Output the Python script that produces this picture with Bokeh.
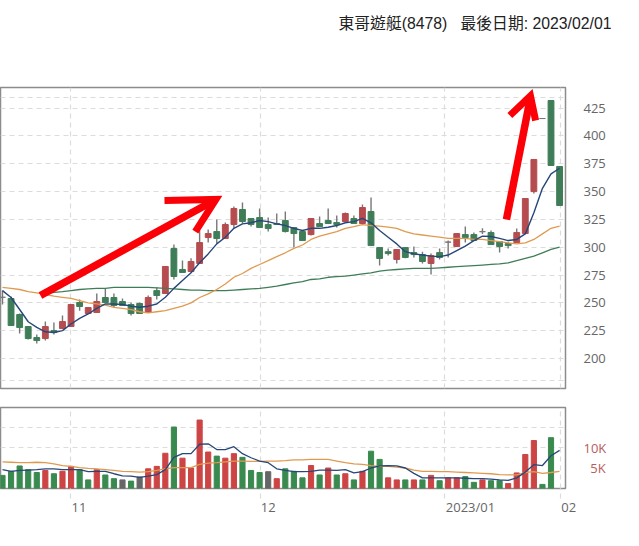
from bokeh.embed import file_html
from bokeh.resources import INLINE
from bokeh.plotting import figure
from bokeh.layouts import column
from bokeh.models import Range1d, FixedTicker, Grid, ColumnDataSource, Label, LinearAxis

opens = [255,253.9,239.5,228.7,218.8,217.9,225.1,226.9,228.7,250.3,240.4,241.3,254.8,254.8,251.2,248.5,249.4,241.3,261,258.4,
         298.8,280,278.2,285.4,308.7,314.1,307.8,320.4,333.9,325.8,326.7,320.4,321.3,324,317.7,314.1,311.4,321.3,324,322.2,
         323.1,325.8,321.3,332.1,299.7,296,289,299.7,295.2,293.4,285.4,295.2,304.6,300.6,311.4,311.4,314,313.2,305.1,303.3,
         304.2,312.3,350,415.7,431.9,372.6]
closes = [255,229.6,227.8,217.9,216.1,228.7,223.3,233.2,248.5,246.7,245.8,251.2,250.3,247.6,247.6,240.4,240.4,254.8,256.6,282.7,
          273.7,277.3,287.2,304.2,312.3,307.8,320.4,334.8,323.1,320.4,317.7,316.8,320.4,314.1,312.3,306,325.8,318.6,321.3,320.4,
          330.3,321.3,335.7,301.5,289.9,294.3,297.9,290.8,293.4,287.2,292.5,290.8,304.6,312.3,308.7,306,314,302.4,300.6,301.5,
          313.2,343.8,378.9,415.7,373.5,337.5]
highs = [261,255.7,240.4,228.7,221.5,233.2,232.3,238.6,248.5,253,245.8,258.4,262.9,258.4,253.9,250.3,250.3,256.6,264,282.7,
         302.4,288,290,315,315.9,324.9,322.2,336.6,340.2,325.8,334.8,326.7,330.3,332.1,317.7,314.1,325.8,327.6,334.8,328.5,
         331.2,328.5,338.4,344.7,299.7,298.8,297.9,300,300.6,296,294.3,298.8,306,312.3,318.6,313.2,317,315,305.1,305,
         316.8,343.8,378.9,415.7,431.9,372.6]
lows = [248.5,229.6,222.4,217,213.5,216.1,221.5,226.9,228.7,243,240.4,241.3,250.3,245.8,247.6,238.6,240,241.3,253,258.4,
        271,277,277.3,285.4,304.2,303.3,307.8,316.8,321.3,318.6,317.7,314.1,320.4,313.2,299.7,306,310.5,318.6,321.3,317.7,
        322.2,321,320.4,301.5,283.6,292.5,285.4,290,290.8,285.4,275.5,289,290.8,300.6,304.2,306,312,302.4,295.2,298.8,
        304.2,312.3,348.3,415.7,373.5,337.5]
ma5 = [261,254.8,244,233,228,224,223.3,225,231,236,240,245,249,249,248.5,247,246,247,249,255,
       263,270,277,286,294,303,309,317,321,322,324,323,321,319.5,317,315,317,317,318,319.5,
       322,323,326,322,315,309,303,296,294,293,292,291.6,293,297,301,306,310,309.6,308,306,
       307,312,331,353,366,371]
ma20 = [264,263,262,260,259,257.5,256,255,254,252,250,249,248,246,245,244,242,241,242,243,
        245,247,250,254.8,258,262,267,273,276.4,281,284.5,288,291.6,295,299,302,307,310,312,314,
        317,318.6,320.4,319.5,319,318,317,314,312,311,310,309,308,308,308,307,307,306,305,304,
        303,304,307,312,317,319]
ma60_start = 5
ma60 = [258,259.5,260,261,262,262.5,263,263,264,264,264,264,264,263.5,263,262.5,262,
        261.5,261.5,261,261,261,261.5,262,262.5,263,264,265,266.5,268,269,271,271.5,273,273.5,
        274,275,276,277,278.5,279.5,280,280.5,281,281,281,281.5,282,282.5,283,283.5,284,284.5,
        285,286,288,290,292,295,298,300]
volume = [3.2,4.2,5.5,4.6,3.9,4.4,3.6,4.2,5.4,4.6,2.1,4.6,3.3,2.4,2.1,1.8,2.8,4.8,5.4,8.6,
          15,7.4,5,16.7,8.9,7.9,7.4,8.5,7.6,4.4,3.9,4.1,2.4,4.8,4.2,2.6,5.6,3.3,5,3.3,
          3.6,2.1,4.2,9.1,7.1,2.6,2.1,2.1,2.1,2.1,3.2,1.9,2.6,2.6,2.9,1.5,2.1,1.9,1.9,1.2,
          3.8,8.3,11.7,1,12.4,10.7]
volume_kind = list("ggggg" "rgrrg" "grggn" "gnrrr" "grrrr" "grrgg" "gnrgg" "grgrg" "rgrgg" "rrgrg" "rgrrg" "grggr" "rrrgg")
vol_ma5 = [4.6,4.2,4.4,4.5,4.6,4.8,4.8,4.6,4.6,4.6,4.1,4.2,4.2,3.6,3.1,3,2.7,3,3.4,4.6,
           7.6,8.5,8.5,10.8,10.9,9.5,9.5,10.2,8.5,7.5,6.7,6.3,4.8,4.4,4.1,4.1,4.2,4.5,4.5,4.4,
           4.6,3.8,4.1,5,5.5,5.6,5.5,5,3.7,2.6,2.6,2.6,2.6,2.6,2.5,2.4,2.4,2.3,2.1,2,
           2.6,4,5.8,5.6,8,9.3]
vol_ma20 = [6.5,6.4,6.3,6.3,6.4,6.3,6,5.6,5.4,5.1,4.9,4.8,4.6,4.4,4.2,4.1,4,4.1,4.4,4.8,
            5.1,5.1,5.1,5.9,6.2,6.3,6.5,6.7,6.7,6.6,6.6,6.7,6.7,6.8,7,7,7.1,7.1,7.1,6.7,
            6.3,6,5.9,5.6,5.4,5.4,5.2,5,4.5,4.2,4.2,4.1,4.1,4,3.9,3.8,3.7,3.6,3.4,3.3,
            3.3,3.9,4.1,3.7,3.9,4.2]
price_ticks = [200,225,250,275,300,325,350,375,400,425]
price_grid = [180,200,225,250,275,300,325,350,375,400,425,435]
vol_ticks = [5,10]
vol_tick_labels = {5:"\u00a0\u00a05K",10:"10K"}
vol_grid = [10,15]
month_pos = [7.94,30.1,51.6,65.05]
month_label_pos = [8.92,31,54.6,65.67]
month_labels = ["11","12","2023/01","\u00a0\u00a002"]
title_text = "東哥遊艇(8478)\u00a0\u00a0\u00a0最後日期: 2023/02/01"
arrow1_x = [[4.43,24.7],[18.9,24.9,22.5]]
arrow1_y = [[256.6,342],[342,343,314]]
arrow2_x = [[58.8,61.6],[59.2,61.6,62.2]]
arrow2_y = [[324.9,434.6],[418.4,436,413.9]]

idx = list(range(len(opens)))
RED, GREEN, GRAY = "#b54c4f", "#3f7d58", "#777777"
body_color = [RED if c > o else GREEN if c < o else GRAY for o, c in zip(opens, closes)]
src = ColumnDataSource(dict(x=idx, o=opens, c=closes, h=highs, l=lows, col=body_color))

GRID = "#dcdcdc"
FONT = "Open Sans"
XR = (-0.233, 65.69)

head = figure(frame_width=631, frame_height=80, x_range=Range1d(0, 631), y_range=Range1d(80, 0),
              output_backend="svg", toolbar_location=None, x_axis_location=None, y_axis_location=None,
              min_border=0)
head.grid.visible = False
head.outline_line_color = None
head.add_layout(Label(x=338, y=23, text=title_text, text_font="Liberation Sans, Noto Sans CJK TC", text_font_size="15.8px",
                      text_color="#222222", text_align="left", text_baseline="middle"))

p = figure(frame_width=565, frame_height=301, x_range=Range1d(*XR), y_range=Range1d(173, 443.6),
           output_backend="svg", toolbar_location=None, x_axis_location=None, y_axis_location="right",
           min_border_left=0, min_border_right=66, min_border_top=7, min_border_bottom=10)
p.grid.visible = False
p.outline_line_color = "#8c8c8c"
p.outline_line_width = 1.5
p.add_layout(Grid(dimension=0, ticker=FixedTicker(ticks=month_pos), grid_line_color=GRID, grid_line_dash=[5, 4], grid_line_width=1.2))
p.add_layout(Grid(dimension=1, ticker=FixedTicker(ticks=price_grid), grid_line_color=GRID, grid_line_dash=[5, 4], grid_line_width=1.2))
ax = p.yaxis[0]
ax.ticker = FixedTicker(ticks=price_ticks)
ax.axis_line_color = None
ax.major_tick_line_color = None
ax.minor_tick_line_color = None
ax.major_label_standoff = 12
ax.major_label_text_color = "#666666"
ax.major_label_text_font = FONT
ax.major_label_text_font_size = "13px"

p.segment("x", "h", "x", "l", source=src, color="#777777", line_width=1.4)
p.vbar(x="x", top="o", bottom="c", width=0.68, source=src, fill_color="col", line_color="col", line_width=1)
p.line(idx[ma60_start:], ma60, color="#3f7d58", line_width=1.3)
p.line(idx, ma20, color="#e09a50", line_width=1.3)
p.line(idx, ma5, color="#27477a", line_width=1.4)
for xs, ys in ((arrow1_x, arrow1_y), (arrow2_x, arrow2_y)):
    p.line(xs[0], ys[0], color="#fb0006", line_width=7.5, line_join="miter")
    p.line(xs[1], ys[1], color="#fb0006", line_width=7, line_join="miter")

v = figure(frame_width=565, frame_height=81, x_range=Range1d(*XR), y_range=Range1d(0, 19.76),
           output_backend="svg", toolbar_location=None, y_axis_location="right",
           min_border_left=0, min_border_right=66, min_border_top=9, min_border_bottom=10)
v.grid.visible = False
v.outline_line_color = "#8c8c8c"
v.outline_line_width = 1.5
v.add_layout(Grid(dimension=0, ticker=FixedTicker(ticks=month_pos), grid_line_color=GRID, grid_line_dash=[5, 4], grid_line_width=1.2))
v.add_layout(Grid(dimension=1, ticker=FixedTicker(ticks=vol_grid), grid_line_color=GRID, grid_line_dash=[5, 4], grid_line_width=1.2))
vy = v.yaxis[0]
vy.ticker = FixedTicker(ticks=vol_ticks)
vy.major_label_overrides = vol_tick_labels
vy.axis_line_color = None
vy.major_tick_line_color = None
vy.minor_tick_line_color = None
vy.major_label_standoff = 12
vy.major_label_text_color = "#b5605c"
vy.major_label_text_font = FONT
vy.major_label_text_font_size = "13px"
vx = v.xaxis[0]
vx.ticker = FixedTicker(ticks=month_pos)
vx.major_label_overrides = {t: "" for t in month_pos}
vx.major_label_standoff = 0
vx.major_label_text_font_size = "1px"
vx.axis_line_color = None
vx.minor_tick_line_color = None
vx.major_tick_out = 10
vx.major_tick_in = 0
vx.major_tick_line_color = GRID
vx.major_tick_line_dash = [5, 4]
vx.major_tick_line_width = 1.2
vx2 = LinearAxis(ticker=FixedTicker(ticks=month_label_pos), major_label_overrides=dict(zip(month_label_pos, month_labels)),
                 axis_line_color=None, major_tick_line_color=None, minor_tick_line_color=None,
                 major_label_standoff=-7, major_label_text_color="#666666", major_label_text_font=FONT,
                 major_label_text_font_size="13px")
v.add_layout(vx2, "below")

vol_col = {"r": "#cc4444", "g": "#3a8a50", "n": "#666666"}
v.vbar(x=idx, top=volume, bottom=0, width=0.6, color=[vol_col[k] for k in volume_kind])
v.line(idx, vol_ma20, color="#e09a50", line_width=1.3)
v.line(idx, vol_ma5, color="#27477a", line_width=1.3)

layout = column(head, p, v, spacing=0)
open("out.html", "w").write(file_html(layout, INLINE))
